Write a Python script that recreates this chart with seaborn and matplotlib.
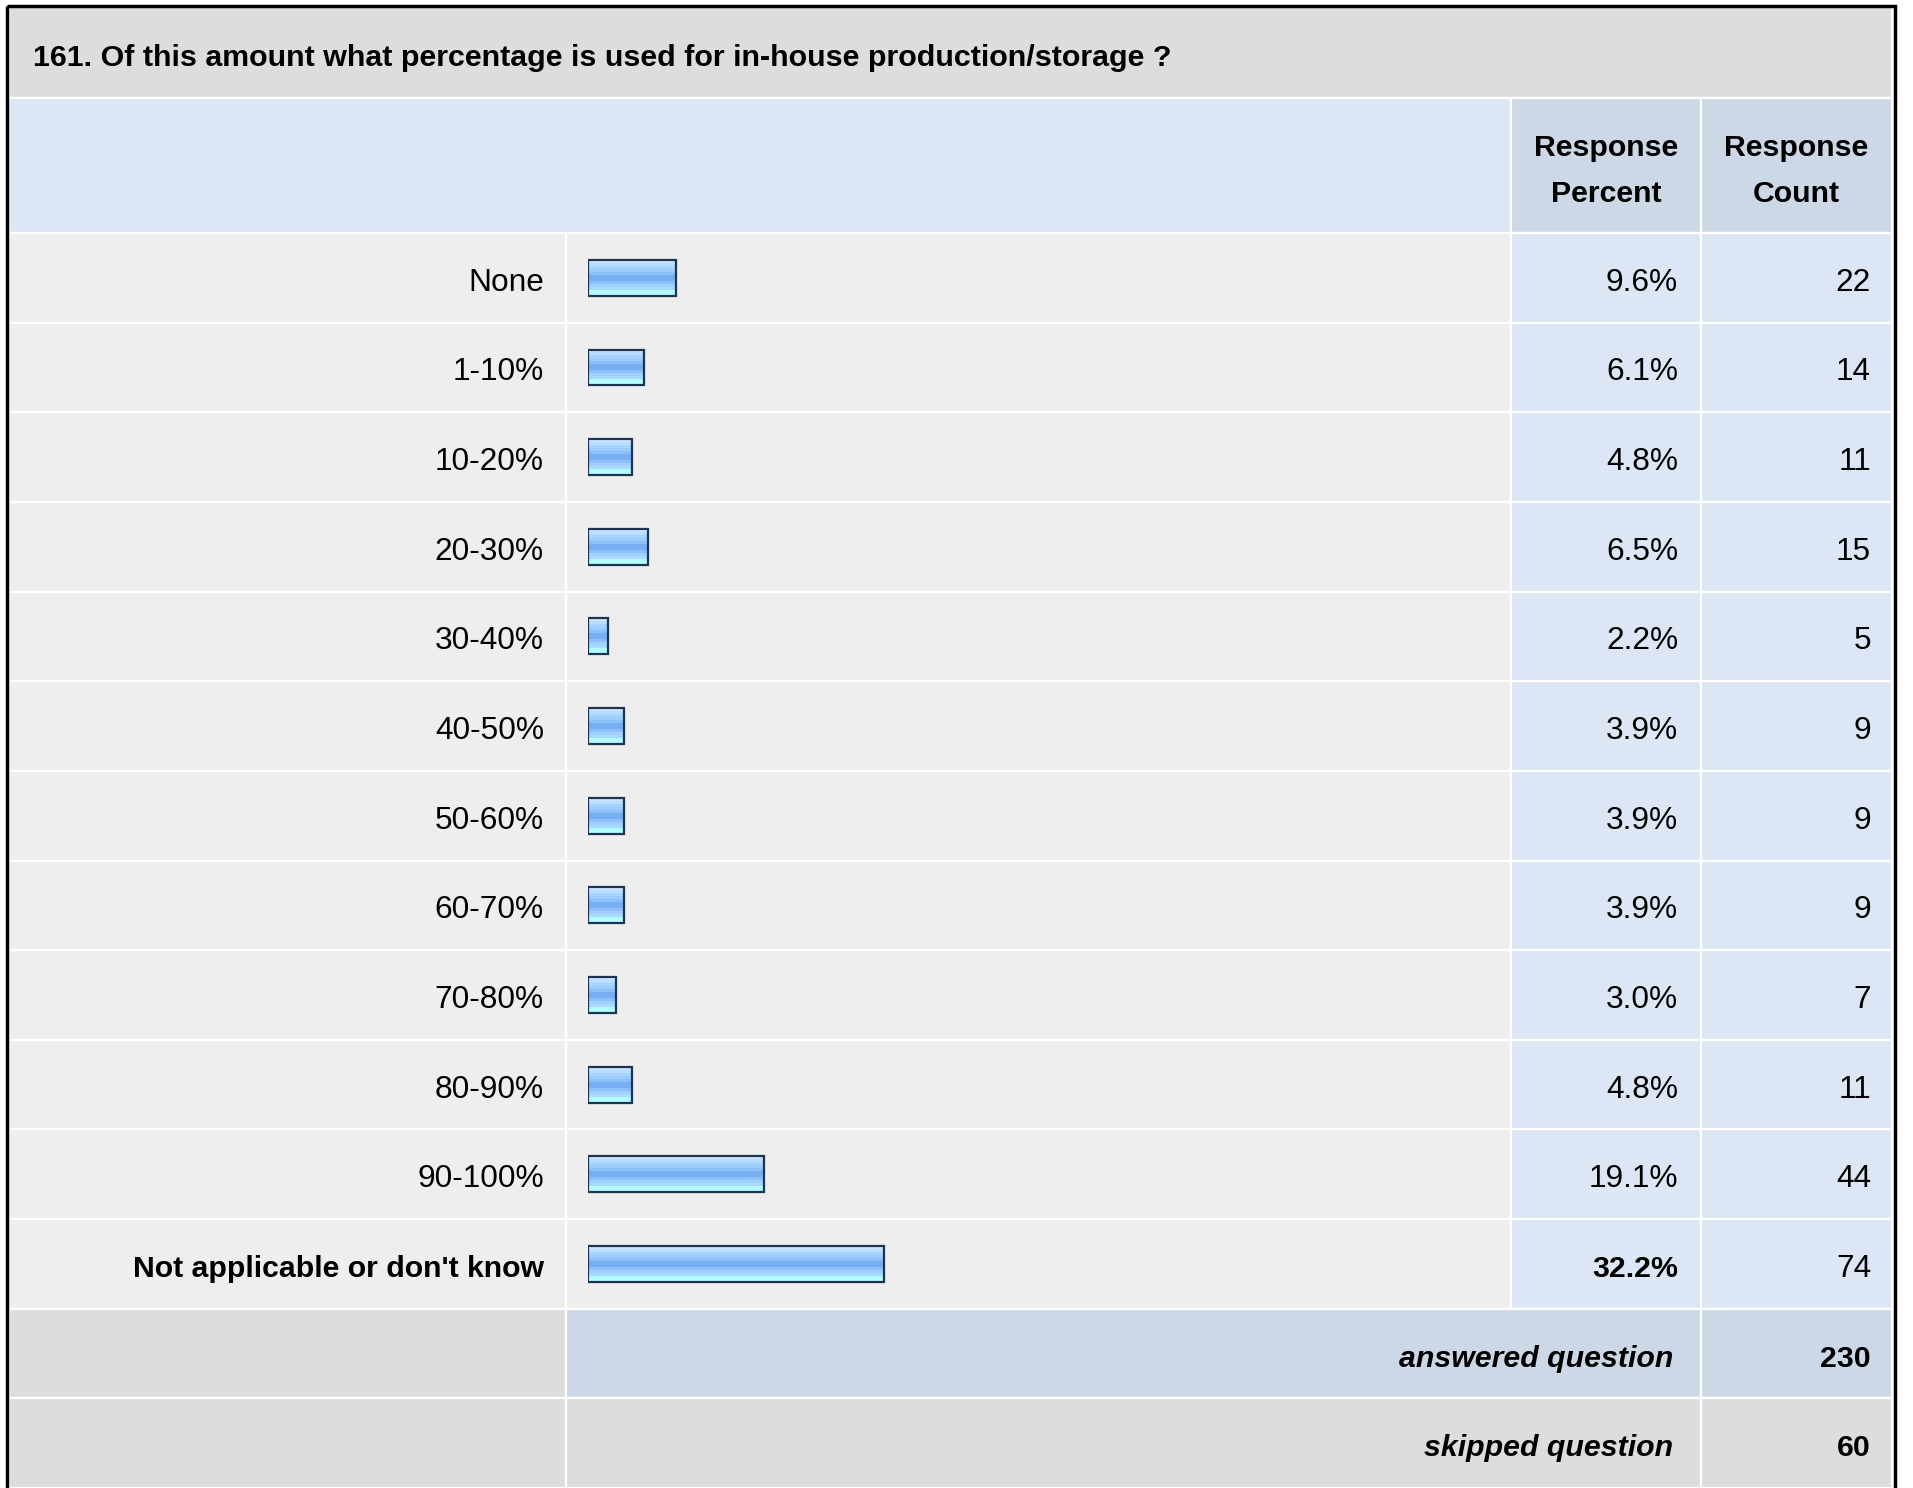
import numpy as np
import pandas as pd
import matplotlib
matplotlib.use("Agg")
import matplotlib.pyplot as plt
import seaborn as sns
from matplotlib.patches import Rectangle
from matplotlib.colors import to_rgb

# Survey data
question = "161. Of this amount what percentage is used for in-house production/storage ?"
labels = ["None", "1-10%", "10-20%", "20-30%", "30-40%", "40-50%", "50-60%",
          "60-70%", "70-80%", "80-90%", "90-100%", "Not applicable or don't know"]
percents = [9.6, 6.1, 4.8, 6.5, 2.2, 3.9, 3.9, 3.9, 3.0, 4.8, 19.1, 32.2]
counts = [22, 14, 11, 15, 5, 9, 9, 9, 7, 11, 44, 74]
answered = 230
skipped = 60

df = pd.DataFrame({"label": labels, "percent": percents})

plt.rcParams['font.family'] = ['Liberation Sans', 'DejaVu Sans']

W, H = 1913, 1488
fig = plt.figure(figsize=(W / 100, H / 100), dpi=100)
bg = fig.add_axes([0, 0, 1, 1])
bg.set_xlim(0, W)
bg.set_ylim(H, 0)
bg.axis('off')

GRAY = '#dddddd'
ROW = '#eeeeee'
LBLUE = '#dce6f4'
DBLUE = '#ccd8e6'
FS = 22.8   # regular text
FSB = 21.8  # bold text
DY = 5      # small downward nudge for text centring

cols = [9, 566, 1511, 1701, 1892]
top = 233
rh = (H - top) / 14


def cell(x0, x1, y0, y1, fc):
    bg.add_patch(Rectangle((x0, y0), x1 - x0, y1 - y0, facecolor=fc,
                           edgecolor='white', linewidth=1.6))


# title bar
cell(cols[0], cols[4], 7, 98, GRAY)
bg.text(33, 53 + DY, question, fontsize=21.9, fontweight='bold', va='center', ha='left')

# header
cell(cols[0], cols[2], 98, top, LBLUE)
cell(cols[2], cols[3], 98, top, DBLUE)
cell(cols[3], cols[4], 98, top, DBLUE)
for (a, b), word in zip([(cols[2], cols[3]), (cols[3], cols[4])], ["Percent", "Count"]):
    bg.text((a + b) / 2, 148, "Response", fontsize=FSB, fontweight='bold', ha='center', va='center')
    bg.text((a + b) / 2, 194, word, fontsize=FSB, fontweight='bold', ha='center', va='center')

# data rows
for i, (lab, pct, cnt) in enumerate(zip(labels, percents, counts)):
    y0 = top + i * rh
    y1 = y0 + rh
    yc = (y0 + y1) / 2 + DY
    cell(cols[0], cols[1], y0, y1, ROW)
    cell(cols[1], cols[2], y0, y1, ROW)
    cell(cols[2], cols[3], y0, y1, LBLUE)
    cell(cols[3], cols[4], y0, y1, LBLUE)
    last = i == len(labels) - 1
    bg.text(cols[1] - 22, yc, lab, fontsize=FSB if last else FS, ha='right', va='center',
            fontweight='bold' if last else 'normal')
    bg.text(cols[3] - 23, yc, f"{pct:.1f}%", fontsize=FSB if last else FS, ha='right',
            va='center', fontweight='bold' if last else 'normal')
    bg.text(cols[4] - 21, yc, str(cnt), fontsize=FS, ha='right', va='center')

# summary rows
y0 = top + 12 * rh
for j, (txt, val, mid) in enumerate([("answered question", answered, DBLUE),
                                      ("skipped question", skipped, GRAY)]):
    a = y0 + j * rh
    b = a + rh
    cell(cols[0], cols[1], a, b, GRAY)
    cell(cols[1], cols[3], a, b, mid)
    cell(cols[3], cols[4], a, b, mid)
    bg.text(cols[3] - 28, (a + b) / 2 + DY, txt, fontsize=FSB, fontweight='bold',
            fontstyle='italic', ha='right', va='center')
    bg.text(cols[4] - 21, (a + b) / 2 + DY, str(val), fontsize=FSB, fontweight='bold',
            ha='right', va='center')

# outer frame
bg.add_patch(Rectangle((6.5, 5.5), 1888, H + 20, fill=False, edgecolor='black',
                       linewidth=2.5, zorder=10))

# bar axes over the bar column
bx0, bw = 588, 920
bax = fig.add_axes([bx0 / W, 1 - (top + 12 * rh) / H, bw / W, 12 * rh / H])
bax.patch.set_alpha(0)
sns.barplot(data=df, x="percent", y="label", orient='h', width=0.4,
            color='#8cc0fb', edgecolor='#1c3352', linewidth=1.6, ax=bax)

stripes = ['#cce6ff', '#b8ddff', '#a6d3ff', '#9ccdff', '#8cc0fb', '#78aef2',
           '#78aef2', '#8cc0fb', '#a0d0ff', '#a8daff', '#b2fcff', '#b4ffff']
grad = np.array([to_rgb(c) for c in stripes]).reshape(len(stripes), 1, 3)
for p in bax.patches:
    x, y = p.get_x(), p.get_y()
    w, h = p.get_width(), p.get_height()
    bax.imshow(grad, extent=(x, x + w, y + h, y), aspect='auto',
               interpolation='nearest', zorder=2)
    p.set_facecolor('none')
    p.set_zorder(3)

bax.set_xlim(0, 100)
bax.set_ylim(11.5, -0.5)
bax.axis('off')

fig.savefig("out.png", dpi=100)
